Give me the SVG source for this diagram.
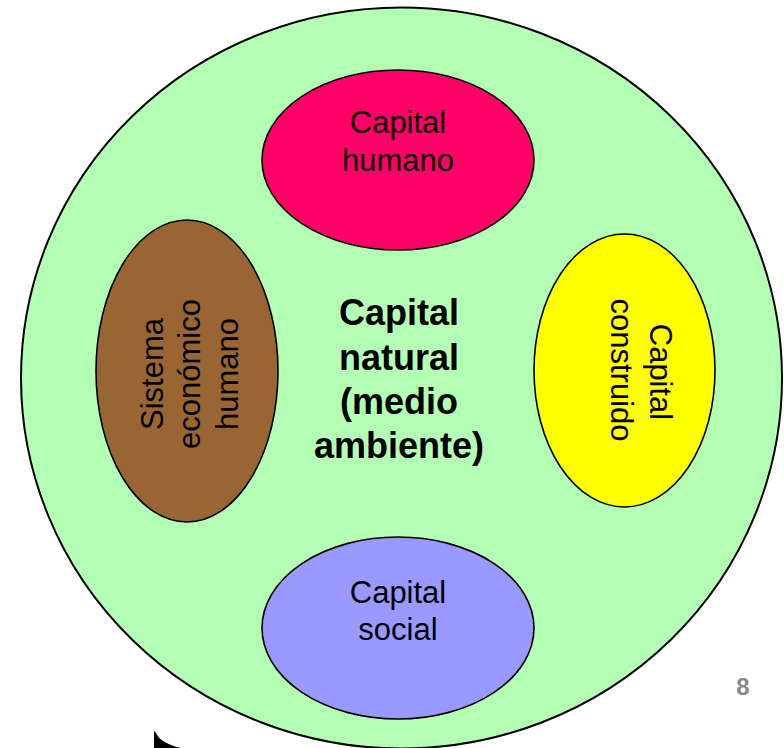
<svg xmlns="http://www.w3.org/2000/svg" width="784" height="748" viewBox="0 0 784 748">
<style>
.sh{stroke:#000;stroke-width:1.6}
.t{font-family:"Liberation Sans",Arial,sans-serif;font-size:31px;fill:#000;text-anchor:middle}
.b{font-family:"Liberation Sans",Arial,sans-serif;font-size:36px;font-weight:bold;fill:#000;text-anchor:middle}
</style>
<rect width="784" height="748" fill="#fff"/>
<g id="natural">
<ellipse cx="401.5" cy="378" rx="380.5" ry="370.5" fill="#B3FFB3" stroke="#000" stroke-width="2"/>
<text class="b" x="399" y="325">Capital</text>
<text class="b" x="399" y="370">natural</text>
<text class="b" x="399" y="414">(medio</text>
<text class="b" x="399" y="458">ambiente)</text>
</g>
<g id="humano">
<ellipse class="sh" cx="398" cy="160" rx="136" ry="90" fill="#FF0066"/>
<text class="t" x="398" y="133">Capital</text>
<text class="t" x="398" y="171">humano</text>
</g>
<g id="social">
<ellipse class="sh" cx="398" cy="628" rx="136" ry="91" fill="#9999FF"/>
<text class="t" x="398" y="603">Capital</text>
<text class="t" x="398" y="640">social</text>
</g>
<g id="economico">
<ellipse class="sh" cx="187" cy="371" rx="91" ry="151" fill="#996633"/>
<text class="t" transform="translate(163,374) rotate(-90)">Sistema</text>
<text class="t" transform="translate(200,374) rotate(-90)">económico</text>
<text class="t" transform="translate(238,374) rotate(-90)">humano</text>
</g>
<g id="construido">
<ellipse class="sh" cx="624.5" cy="370.5" rx="90.5" ry="136.5" fill="#FFFF00"/>
<text class="t" transform="translate(650,372) rotate(90)">Capital</text>
<text class="t" transform="translate(611,370) rotate(90)">construido</text>
</g>
<g id="connectors"></g>
<text x="743" y="695" font-family="'Liberation Sans',Arial,sans-serif" font-size="24" font-weight="bold" fill="#888" text-anchor="middle">8</text>
<path d="M154,731 L156,733 Q160,743 181,748 L154,748 Z" fill="#000"/>
</svg>
